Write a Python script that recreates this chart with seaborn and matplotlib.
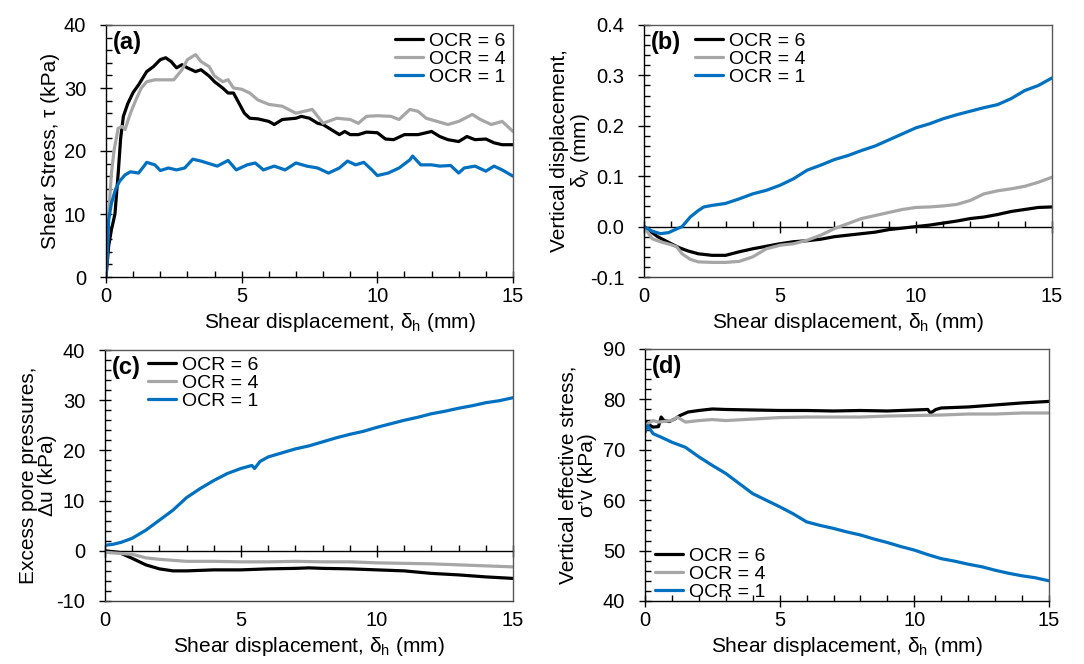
import matplotlib
matplotlib.use("Agg")
import matplotlib.pyplot as plt
import numpy as np
import pandas as pd
import seaborn as sns
from matplotlib.ticker import MultipleLocator

sns.set_style("ticks")
plt.rcParams["font.family"] = ["Liberation Sans", "DejaVu Sans"]
plt.rcParams["axes.unicode_minus"] = False
plt.rcParams["mathtext.default"] = "regular"
for k in ["text.color", "axes.labelcolor", "xtick.color", "ytick.color"]:
    plt.rcParams[k] = "#000000"

SERIES = ["OCR = 6", "OCR = 4", "OCR = 1"]
COLORS = ["#000000", "#A6A6A6", "#0070C0"]

# ---------------- (a) shear stress ----------------
a6_x = [0, 0.1, 0.2, 0.33, 0.45, 0.54, 0.64, 0.8, 1.0, 1.2, 1.5, 1.75, 2.0, 2.2, 2.4, 2.6, 2.8, 3.0, 3.3, 3.5,
        3.8, 4.0, 4.3, 4.5, 4.7, 4.9, 5.1, 5.3, 5.6, 6.0, 6.2, 6.5, 7.0, 7.2, 7.5, 7.8, 8.0, 8.3, 8.6, 8.8,
        9.0, 9.3, 9.6, 10.0, 10.3, 10.6, 11.0, 11.5, 12.0, 12.3, 12.6, 13.0, 13.3, 13.6, 14.0, 14.3, 14.6, 15.0]
a6_y = [0, 5, 7.5, 10, 16.5, 22, 25.5, 27.5, 29.3, 30.5, 32.6, 33.4, 34.5, 34.8, 34.2, 33.2, 33.7, 33.2, 32.6, 32.9,
        31.9, 31.0, 30.0, 29.2, 29.2, 27.6, 26.0, 25.2, 25.1, 24.7, 24.2, 25.0, 25.2, 25.5, 25.2, 24.4, 24.2, 23.4, 22.6, 23.1,
        22.6, 22.6, 23.0, 22.9, 21.9, 21.8, 22.6, 22.6, 23.1, 22.3, 21.8, 21.5, 22.3, 21.8, 21.9, 21.3, 21.0, 21.0]
a4_x = [0, 0.1, 0.2, 0.3, 0.45, 0.6, 0.7, 0.9, 1.1, 1.3, 1.5, 1.8, 2.1, 2.5, 2.8, 3.0, 3.3, 3.5, 3.8, 4.0,
        4.3, 4.5, 4.7, 5.0, 5.3, 5.6, 6.0, 6.5, 7.0, 7.3, 7.6, 8.0, 8.5, 9.0, 9.3, 9.6, 10.0, 10.5, 10.8, 11.2,
        11.5, 11.8, 12.2, 12.6, 13.0, 13.5, 13.8, 14.2, 14.6, 15.0]
a4_y = [0, 10, 16.5, 20.2, 23.6, 23.9, 23.4, 26.0, 28.1, 30.0, 31.0, 31.3, 31.3, 31.3, 32.9, 34.5, 35.3, 34.2, 33.4, 31.9,
        31.0, 31.3, 30.0, 29.8, 29.2, 28.1, 27.4, 27.1, 26.0, 26.3, 26.6, 24.4, 25.2, 25.0, 24.4, 25.5, 25.6, 25.5, 25.0, 26.6,
        26.3, 25.2, 24.7, 24.2, 24.7, 25.8, 25.0, 24.2, 24.7, 23.1]
a1_x = [0, 0.05, 0.1, 0.2, 0.35, 0.5, 0.7, 0.9, 1.2, 1.4, 1.5, 1.8, 2.0, 2.3, 2.6, 2.9, 3.2, 3.5, 3.8, 4.1,
        4.5, 4.8, 5.2, 5.5, 5.8, 6.2, 6.6, 7.0, 7.4, 7.8, 8.2, 8.6, 8.9, 9.2, 9.5, 9.8, 10.0, 10.4, 10.8, 11.2,
        11.3, 11.6, 12.0, 12.3, 12.7, 13.0, 13.2, 13.6, 14.0, 14.3, 14.6, 15.0]
a1_y = [0, 4, 9.1, 11.7, 13.9, 15.2, 16.2, 16.7, 16.5, 17.6, 18.2, 17.8, 16.9, 17.3, 17.0, 17.3, 18.7, 18.4, 18.0, 17.6,
        18.5, 17.0, 17.8, 18.1, 17.0, 17.6, 17.0, 18.1, 17.6, 17.3, 16.5, 17.3, 18.4, 17.8, 18.2, 17.0, 16.1, 16.5, 17.3, 18.6,
        19.2, 17.8, 17.8, 17.6, 17.7, 16.5, 17.3, 17.6, 16.8, 17.6, 17.0, 16.0]

# ---------------- (b) vertical displacement ----------------
b6_x = [0, 0.5, 1.0, 1.3, 1.6, 2.0, 2.5, 3.0, 3.5, 4.0, 4.5, 5.0, 5.5, 6.0, 6.5, 7.0, 7.5, 8.0, 8.5, 9.0,
        9.5, 10.0, 10.5, 11.0, 11.5, 12.0, 12.5, 13.0, 13.5, 14.0, 14.5, 15.0]
b6_y = [0, -0.020, -0.034, -0.042, -0.048, -0.054, -0.057, -0.057, -0.050, -0.044, -0.039, -0.034, -0.030, -0.028,
        -0.025, -0.020, -0.017, -0.014, -0.011, -0.006, -0.003, 0.0, 0.003, 0.007, 0.011, 0.016, 0.019, 0.024, 0.030,
        0.034, 0.038, 0.039]
b4_x = [0, 0.3, 0.6, 1.0, 1.2, 1.4, 1.7, 2.0, 2.5, 3.0, 3.5, 4.0, 4.5, 5.0, 5.5, 6.0, 6.5, 7.0, 7.5, 8.0,
        8.5, 9.0, 9.5, 10.0, 10.5, 11.0, 11.5, 12.0, 12.5, 13.0, 13.5, 14.0, 14.5, 15.0]
b4_y = [0, -0.024, -0.030, -0.036, -0.040, -0.054, -0.065, -0.070, -0.071, -0.071, -0.069, -0.060, -0.044, -0.037,
        -0.034, -0.027, -0.017, -0.004, 0.006, 0.016, 0.022, 0.028, 0.034, 0.038, 0.039, 0.041, 0.044, 0.052, 0.065,
        0.071, 0.075, 0.080, 0.088, 0.098]
b1_x = [0, 0.3, 0.6, 0.9, 1.1, 1.4, 1.7, 2.0, 2.2, 2.5, 3.0, 3.5, 4.0, 4.5, 5.0, 5.5, 6.0, 6.5, 7.0, 7.5,
        8.0, 8.5, 9.0, 9.5, 10.0, 10.5, 11.0, 11.5, 12.0, 12.5, 13.0, 13.5, 14.0, 14.5, 15.0]
b1_y = [0, -0.009, -0.014, -0.012, -0.007, 0.0, 0.019, 0.032, 0.039, 0.042, 0.046, 0.055, 0.065, 0.072, 0.082,
        0.095, 0.112, 0.122, 0.133, 0.141, 0.151, 0.160, 0.172, 0.184, 0.196, 0.204, 0.214, 0.222, 0.229, 0.236,
        0.242, 0.254, 0.270, 0.280, 0.295]

# ---------------- (c) excess pore pressure ----------------
c6_x = [0, 0.5, 1.0, 1.5, 2.0, 2.5, 3.0, 4.0, 5.0, 6.0, 7.0, 7.5, 8.0, 9.0, 10.0, 11.0, 12.0, 13.0, 14.0, 15.0]
c6_y = [0, -0.3, -1.5, -2.8, -3.6, -4.0, -4.0, -3.8, -3.8, -3.6, -3.5, -3.4, -3.5, -3.6, -3.8, -4.0, -4.5, -4.8, -5.2, -5.5]
c4_x = [0, 0.5, 1.0, 1.5, 2.0, 2.5, 3.0, 4.0, 5.0, 6.0, 7.0, 8.0, 9.0, 10.0, 11.0, 12.0, 13.0, 14.0, 15.0]
c4_y = [-0.3, -0.5, -0.7, -1.4, -1.7, -1.9, -2.1, -2.1, -2.2, -2.2, -2.1, -2.2, -2.2, -2.4, -2.5, -2.6, -2.8, -3.0, -3.2]
c1_x = [0, 0.3, 0.6, 1.0, 1.5, 2.0, 2.5, 3.0, 3.5, 4.0, 4.5, 5.0, 5.4, 5.5, 5.7, 6.0, 6.5, 7.0, 7.5, 8.0,
        8.5, 9.0, 9.5, 10.0, 10.5, 11.0, 11.5, 12.0, 12.5, 13.0, 13.5, 14.0, 14.5, 15.0]
c1_y = [1.1, 1.3, 1.7, 2.5, 4.1, 6.1, 8.1, 10.6, 12.4, 14.0, 15.4, 16.4, 17.0, 16.4, 17.8, 18.7, 19.5, 20.3, 20.9, 21.7,
        22.5, 23.2, 23.8, 24.6, 25.3, 26.0, 26.6, 27.3, 27.8, 28.4, 28.9, 29.5, 29.9, 30.5]

# ---------------- (d) vertical effective stress ----------------
d6_x = [0, 0.2, 0.3, 0.5, 0.6, 0.7, 0.9, 1.1, 1.3, 1.6, 2.0, 2.5, 3.0, 4.0, 5.0, 6.0, 7.0, 8.0, 9.0, 10.0,
        10.5, 10.6, 10.8, 11.0, 12.0, 13.0, 14.0, 15.0]
d6_y = [75.7, 74.8, 74.5, 74.6, 76.5, 75.8, 75.6, 76.1, 76.8, 77.5, 77.8, 78.1, 78.0, 77.9, 77.8, 77.8, 77.7, 77.8, 77.7,
        77.9, 78.0, 77.3, 78.0, 78.3, 78.5, 78.9, 79.3, 79.6]
d4_x = [0, 0.1, 0.3, 0.5, 1.0, 1.2, 1.5, 2.0, 2.5, 3.0, 4.0, 5.0, 6.0, 7.0, 8.0, 9.0, 10.0, 11.0, 12.0, 13.0, 14.0, 15.0]
d4_y = [74.5, 75.2, 75.8, 75.5, 75.8, 76.5, 75.5, 75.8, 76.0, 75.8, 76.1, 76.4, 76.5, 76.5, 76.5, 76.7, 76.8, 76.9, 77.1,
        77.1, 77.3, 77.3]
d1_x = [0, 0.1, 0.3, 0.6, 1.0, 1.5, 2.0, 2.5, 3.0, 3.5, 4.0, 4.5, 5.0, 5.5, 6.0, 6.5, 7.0, 7.5, 8.0, 8.5,
        9.0, 9.5, 10.0, 10.5, 11.0, 11.5, 12.0, 12.5, 13.0, 13.5, 14.0, 14.5, 15.0]
d1_y = [73.5, 74.8, 73.2, 72.5, 71.5, 70.5, 68.6, 66.9, 65.3, 63.3, 61.3, 60.0, 58.7, 57.3, 55.7, 55.0, 54.4, 53.7, 53.1,
        52.3, 51.6, 50.8, 50.1, 49.2, 48.4, 47.9, 47.3, 46.8, 46.1, 45.5, 45.0, 44.6, 44.0]


def frame(pairs):
    return pd.concat([pd.DataFrame({"x": x, "y": y, "OCR": s}) for s, (x, y) in zip(SERIES, pairs)],
                     ignore_index=True)


W, H = 1084, 664
fig = plt.figure(figsize=(W / 100, H / 100), dpi=100)


def px_axes(l, t, r, b):
    return fig.add_axes([l / W, 1 - b / H, (r - l) / W, (b - t) / H])


panels = [
    dict(rect=(106, 25, 513, 277), data=[(a6_x, a6_y), (a4_x, a4_y), (a1_x, a1_y)], ylim=(0, 40), ymaj=10, ymin=2,
         ylabel="Shear Stress, τ (kPa)", tag="(a)", zero=False, fmt="{:.0f}",
         leg=dict(loc="upper right", bbox_to_anchor=(0.982, 0.972)), ylx=-0.113, xlx=0.575),
    dict(rect=(644, 25, 1052, 277), data=[(b6_x, b6_y), (b4_x, b4_y), (b1_x, b1_y)], ylim=(-0.1, 0.4), ymaj=0.1,
         ymin=0.02, ylabel="Vertical displacement,\nδ$_\\mathregular{v}$ (mm)", tag="(b)", zero=True, fmt="{:.1f}",
         leg=dict(loc="upper left", bbox_to_anchor=(0.125, 0.972)), ylx=-0.127, xlx=0.5),
    dict(rect=(105, 350, 513, 601), data=[(c6_x, c6_y), (c4_x, c4_y), (c1_x, c1_y)], ylim=(-10, 40), ymaj=10, ymin=2,
         ylabel="Excess pore pressures,\nΔu (kPa)", tag="(c)", zero=True, fmt="{:.0f}",
         leg=dict(loc="upper left", bbox_to_anchor=(0.105, 0.975)), ylx=-0.118, xlx=0.5),
    dict(rect=(645, 349, 1049, 601), data=[(d6_x, d6_y), (d4_x, d4_y), (d1_x, d1_y)], ylim=(40, 90), ymaj=10, ymin=2,
         ylabel="Vertical effective stress,\nσ’v (kPa)", tag="(d)", zero=False, fmt="{:.0f}",
         leg=dict(loc="lower left", bbox_to_anchor=(0.025, 0.0)), ylx=-0.119, xlx=0.5),
]

for p in panels:
    ax = px_axes(*p["rect"])
    df = frame(p["data"])
    sns.lineplot(data=df, x="x", y="y", hue="OCR", hue_order=SERIES, palette=COLORS, linewidth=2.3,
                 estimator=None, sort=False, ax=ax)
    ax.set_xlim(0, 15)
    ax.set_ylim(*p["ylim"])
    ax.xaxis.set_major_locator(MultipleLocator(5))
    ax.xaxis.set_minor_locator(MultipleLocator(1))
    ax.yaxis.set_major_locator(MultipleLocator(p["ymaj"]))
    ax.yaxis.set_minor_locator(MultipleLocator(p["ymin"]))
    ax.yaxis.set_major_formatter(matplotlib.ticker.FuncFormatter(
        lambda v, _, f=p["fmt"]: f.format(v + 0.0) if abs(v) > 1e-9 else f.format(0.0)))
    ax.tick_params(which="major", direction="inout", length=8.5, width=1.0, labelsize=14.5, colors="#000000")
    ax.tick_params(which="minor", direction="in", length=4.0, width=1.0, color="#000000")
    ax.tick_params(axis="y", which="major", pad=10)
    ax.tick_params(axis="x", which="major", pad=3)
    for s in ax.spines.values():
        s.set_linewidth(1.0)
    for s in ["top", "right"]:
        ax.spines[s].set_color("#595959")
    ax.spines["left"].set_color("#000000")
    ax.spines["bottom"].set_color("#000000" if not p["zero"] else "#404040")
    if p["zero"]:
        ax.tick_params(axis="x", which="both", length=0, pad=7.3)
        frac = (0 - p["ylim"][0]) / (p["ylim"][1] - p["ylim"][0])
        sec = ax.secondary_xaxis(frac)
        sec.xaxis.set_major_locator(MultipleLocator(5))
        sec.xaxis.set_minor_locator(MultipleLocator(1))
        sec.tick_params(which="major", direction="inout", length=8.5, width=1.0, labelbottom=False, color="#000000")
        sec.tick_params(which="minor", direction="in", length=4.0, width=1.0, color="#000000")
        sec.spines["bottom"].set_color("#000000")
        sec.spines["bottom"].set_linewidth(1.0)
    ax.set_xlabel("Shear displacement, δ$_\\mathregular{h}$ (mm)", fontsize=15)
    ax.set_ylabel(p["ylabel"], fontsize=15, linespacing=1.0)
    ax.yaxis.set_label_coords(p["ylx"], 0.5)
    ax.xaxis.set_label_coords(p["xlx"], -0.135)
    ax.text(0.017, 0.975, p["tag"], transform=ax.transAxes, ha="left", va="top", fontsize=17, fontweight="bold")
    handles, labels = ax.get_legend_handles_labels()
    ax.legend(handles, labels, frameon=False, fontsize=14, handlelength=1.45, handletextpad=0.3, labelspacing=0.02,
              borderpad=0.0, borderaxespad=0.0, **p["leg"])

fig.savefig("out.png", dpi=100)
